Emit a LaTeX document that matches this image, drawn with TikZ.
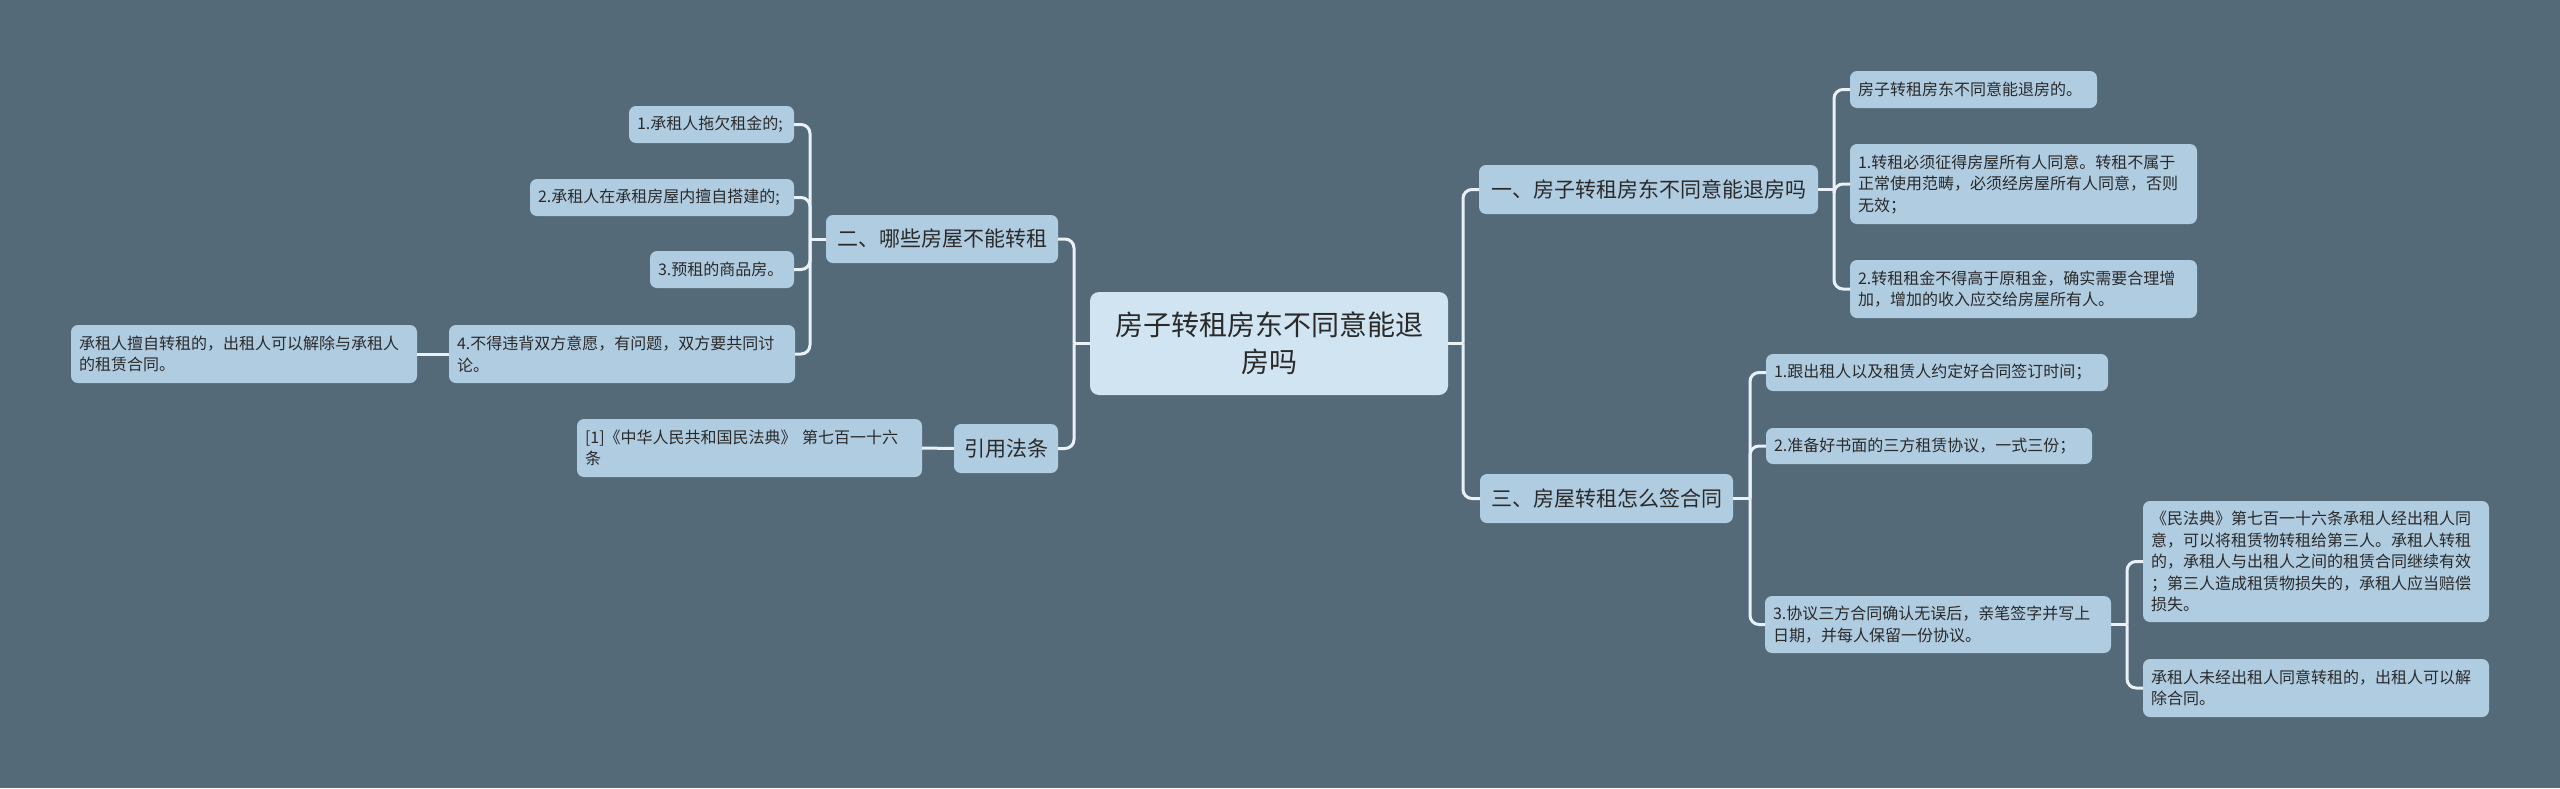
\documentclass[tikz,border=0pt]{standalone}
\usepackage{fontspec}
\setmainfont{Noto Sans CJK SC}
\definecolor{bg}{HTML}{546A79}
\definecolor{nodefill}{HTML}{B0CCE1}
\definecolor{rootfill}{HTML}{D0E4F1}
\definecolor{linec}{HTML}{E8F1F7}
\definecolor{txt}{HTML}{2A2A2A}
\tikzset{
  base/.style={rounded corners=7pt, fill=nodefill, text=txt, inner sep=0pt, outer sep=0pt},
  rootbox/.style={base, fill=rootfill, rounded corners=9pt, align=center, font=\fontsize{28}{37}\selectfont},
  lvone/.style={base, font=\fontsize{21}{26}\selectfont, align=center},
  leaf/.style={base, inner xsep=8pt, font=\fontsize{16}{21.5}\selectfont, align=left},
  conn/.style={draw=linec, line width=3pt, rounded corners=9pt},
}
\begin{document}
\begin{tikzpicture}[x=1pt,y=-1pt]
\fill[bg] (0,0) rectangle (2560,788);
\useasboundingbox (0,0) rectangle (2560,788);

% root
\node[rootbox, minimum width=358pt, minimum height=103pt] (root) at (1269,343.5) {房子转租房东不同意能退\\房吗};

% level one
\node[lvone, minimum width=339pt, minimum height=49pt] (s1) at (1648.5,189.5) {一、房子转租房东不同意能退房吗};
\node[lvone, minimum width=253pt, minimum height=49pt] (s3) at (1606.5,498.5) {三、房屋转租怎么签合同};
\node[lvone, minimum width=232pt, minimum height=48pt] (s2) at (942,239) {二、哪些房屋不能转租};
\node[lvone, minimum width=104pt, minimum height=49pt] (law) at (1006,448.5) {引用法条};

% right branch 1
\node[leaf, text width=231pt, minimum height=37pt] (a1) at (1973.5,89.5) {房子转租房东不同意能退房的。};
\node[leaf, text width=331pt, minimum height=80pt] (a2) at (2023.5,184) {1.转租必须征得房屋所有人同意。转租不属于\\正常使用范畴，必须经房屋所有人同意，否则\\无效；};
\node[leaf, text width=331pt, minimum height=58pt] (a3) at (2023.5,289) {2.转租租金不得高于原租金，确实需要合理增\\加，增加的收入应交给房屋所有人。};

% right branch 3
\node[leaf, text width=326pt, minimum height=37pt] (c1) at (1937,372.5) {1.跟出租人以及租赁人约定好合同签订时间；};
\node[leaf, text width=310pt, minimum height=36pt] (c2) at (1929,446) {2.准备好书面的三方租赁协议，一式三份；};
\node[leaf, text width=330pt, minimum height=57pt] (c3) at (1938,624.5) {3.协议三方合同确认无误后，亲笔签字并写上\\日期，并每人保留一份协议。};
\node[leaf, text width=330pt, minimum height=121pt] (d1) at (2316,561.5) {《民法典》第七百一十六条承租人经出租人同\\意，可以将租赁物转租给第三人。承租人转租\\的，承租人与出租人之间的租赁合同继续有效\\；第三人造成租赁物损失的，承租人应当赔偿\\损失。};
\node[leaf, text width=330pt, minimum height=58pt] (d2) at (2316,688) {承租人未经出租人同意转租的，出租人可以解\\除合同。};

% left branch 2
\node[leaf, text width=149pt, minimum height=37pt] (b1) at (711.5,124.5) {1.承租人拖欠租金的;};
\node[leaf, text width=248pt, minimum height=37pt] (b2) at (662,197.5) {2.承租人在承租房屋内擅自搭建的;};
\node[leaf, text width=128pt, minimum height=37pt] (b3) at (722,269.5) {3.预租的商品房。};
\node[leaf, text width=330pt, minimum height=58pt] (b4) at (622,354) {4.不得违背双方意愿，有问题，双方要共同讨\\论。};
\node[leaf, text width=330pt, minimum height=58pt] (e1) at (244,354) {承租人擅自转租的，出租人可以解除与承租人\\的租赁合同。};

% law
\node[leaf, text width=329pt, minimum height=58pt] (r1) at (749.5,448) {[1]《中华人民共和国民法典》 第七百一十六\\条};

% junction coordinates
\path (root.east) ++(15,0) coordinate (jr);
\path (root.west) ++(-16,0) coordinate (jl);
\path (s1.east) ++(16,0) coordinate (j1);
\path (s3.east) ++(17,0) coordinate (j3);
\path (c3.east) ++(16,0) coordinate (jc3);
\path (s2.west) ++(-16,0) coordinate (j2);

% connectors
\draw[conn] (root.east) -- (jr);
\draw[conn] (jr) |- (s1.west);
\draw[conn] (jr) |- (s3.west);
\draw[conn] (root.west) -- (jl);
\draw[conn] (jl) |- (s2.east);
\draw[conn] (jl) |- (law.east);

\draw[conn] (s1.east) -- (j1);
\draw[conn] (j1) |- (a1.west);
\draw[conn] (j1) |- (a2.west);
\draw[conn] (j1) |- (a3.west);

\draw[conn] (s3.east) -- (j3);
\draw[conn] (j3) |- (c1.west);
\draw[conn] (j3) |- (c2.west);
\draw[conn] (j3) |- (c3.west);

\draw[conn] (c3.east) -- (jc3);
\draw[conn] (jc3) |- (d1.west);
\draw[conn] (jc3) |- (d2.west);

\draw[conn] (s2.west) -- (j2);
\draw[conn] (j2) |- (b1.east);
\draw[conn] (j2) |- (b2.east);
\draw[conn] (j2) |- (b3.east);
\draw[conn] (j2) |- (b4.east);

\draw[conn] (b4.west) -- (e1.east);
\draw[conn] (law.west) -- (r1.east);
\end{tikzpicture}
\end{document}
